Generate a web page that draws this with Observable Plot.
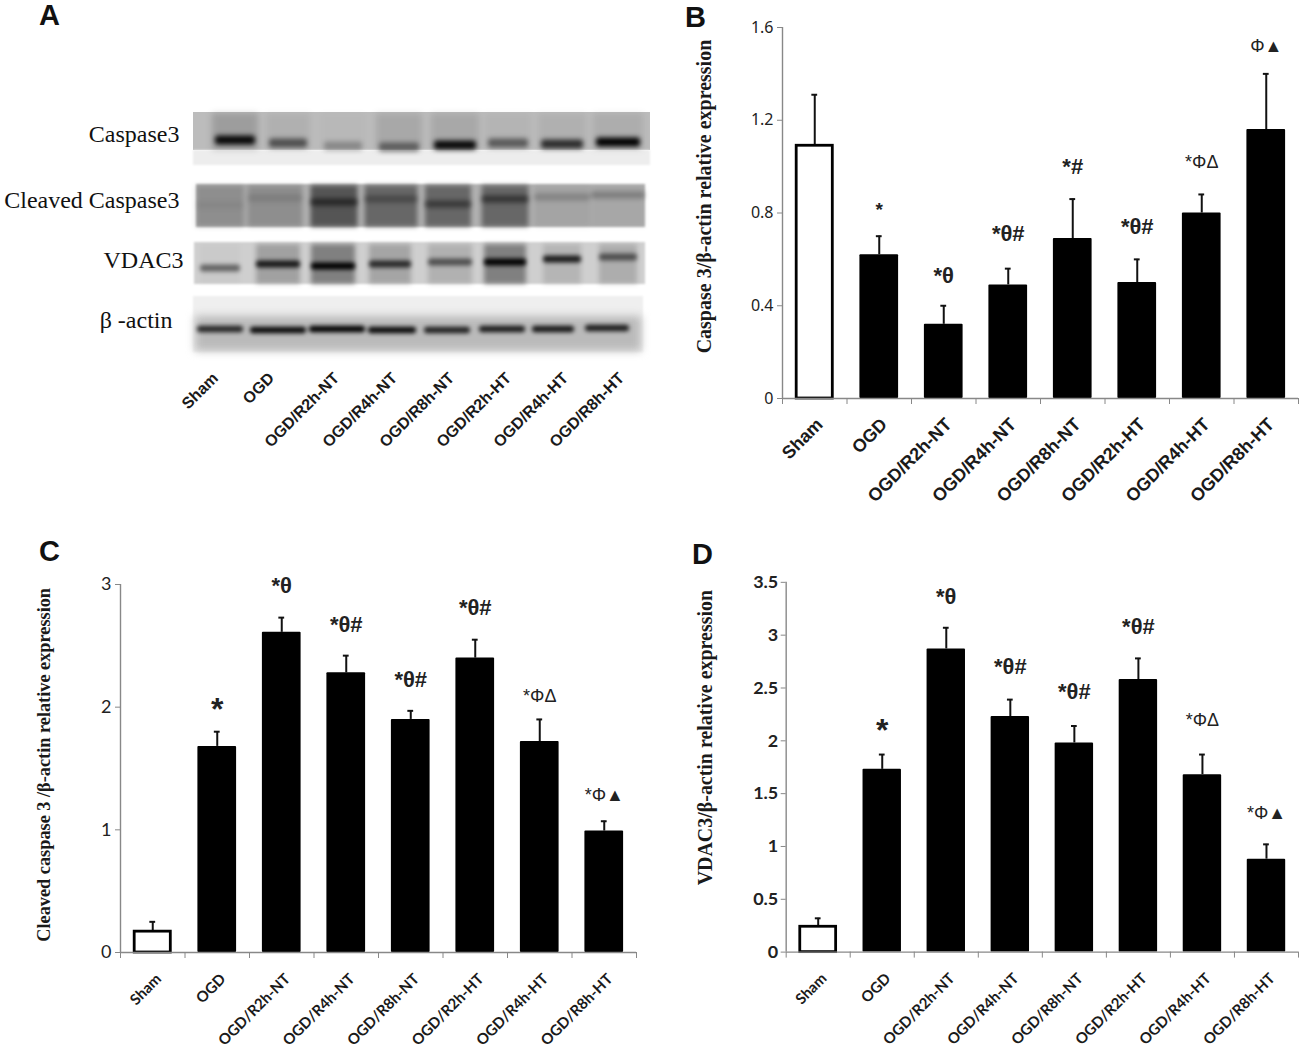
<!DOCTYPE html>
<html><head><meta charset="utf-8">
<script src="https://cdn.jsdelivr.net/npm/d3@7"></script>
<script src="https://cdn.jsdelivr.net/npm/@observablehq/plot@0.6"></script>
<style>
html,body{margin:0;padding:0;background:#fff;width:1300px;height:1048px;overflow:hidden}
.p{position:absolute}
.p svg{background:transparent;overflow:visible;display:block}
.letter{position:absolute;font:bold 29px "Liberation Sans",sans-serif;color:#111;line-height:24px}
</style></head><body>
<script>
const categories=["Sham","OGD","OGD/R2h-NT","OGD/R4h-NT","OGD/R8h-NT","OGD/R2h-HT","OGD/R4h-HT","OGD/R8h-HT"];

// Panel B
const caspaseMean=[1.09,0.62,0.32,0.49,0.69,0.50,0.80,1.16];
const caspaseTop=[1.31,0.70,0.40,0.56,0.86,0.60,0.88,1.40];
const caspaseMarks=["","*","*θ","*θ#","*#","*θ#","*ΦΔ","Φ▲"];
const caspaseMarkY=[null,0.83,0.53,0.71,1.0,0.74,1.02,1.52];
// Panel C
const cleavedMean=[0.17,1.68,2.61,2.28,1.90,2.40,1.72,0.99];
const cleavedTop=[0.25,1.80,2.73,2.42,1.97,2.55,1.90,1.07];
const cleavedMarks=["","*","*θ","*θ#","*θ#","*θ#","*ΦΔ","*Φ▲"];
const cleavedMarkY=[null,2.03,2.99,2.67,2.22,2.81,2.09,1.28];
// Panel D
const vdacMean=[0.24,1.73,2.87,2.23,1.98,2.58,1.68,0.88];
const vdacTop=[0.32,1.87,3.07,2.39,2.14,2.78,1.87,1.02];
const vdacMarks=["","*","*θ","*θ#","*θ#","*θ#","*ΦΔ","*Φ▲"];
const vdacMarkY=[null,2.16,3.36,2.70,2.46,3.08,2.19,1.31];

// Panel A: blot readings (lane centre, lane width, band position, band density, smear density)
const blotLabels=["Caspase3","Cleaved Caspase3","VDAC3","β -actin"];
const casLane=[235,288,343,399,455,508,562,618];
const casWidth=[40,38,38,40,42,40,42,44];
const casBand=[140,143,146,147,145,143,144,142];
const casDensity=[0.95,0.55,0.26,0.45,0.95,0.5,0.75,1];
const casHalo=[0.16,0.06,0.02,0.10,0.10,0.04,0.06,0.08];
const cleLane=[220,275,334,391,448,505,562,618];
const cleWidth=[48,55,47,53,46,47,56,54];
const cleBand=[205,198,202,199,204,199,197,195];
const cleDensity=[0.05,0.12,0.55,0.3,0.45,0.5,0.2,0.25];
const cleHalo=[0.2,0.2,0.52,0.42,0.42,0.42,0.08,0.06];
const vdaLane=[220,278,333,390,450,505,562,618];
const vdaWidth=[40,44,44,42,44,42,38,38];
const vdaBand=[268,264,266,264,262,262,259,257];
const vdaDensity=[0.5,0.85,1,0.75,0.55,1,0.85,0.55];
const vdaHalo=[0.02,0.22,0.38,0.2,0.14,0.38,0.12,0.16];
const actLane=[220,278,337,392,447,502,553,607];
const actWidth=[46,56,56,48,46,46,42,44];
const actBand=[329,330,329,330,330,329,329,328];
const actDensity=[0.8,0.95,1,0.95,0.82,0.85,0.88,0.85];
const gelLabelEnd=[215,271,336,394,451,508,565,621];

function place(node,left,top){const d=document.createElement("div");d.className="p";d.style.left=left+"px";d.style.top=top+"px";d.append(node);document.body.append(d);}
function letter(t,x,y){const d=document.createElement("div");d.className="letter";d.textContent=t;d.style.left=x+"px";d.style.top=y+"px";document.body.append(d);}

function barPanel(o){
  const rows=categories.map((c,i)=>({c,i,mean:o.mean[i],top:o.top[i],mark:o.marks[i],markY:o.markY[i]}));
  const cx=rows.map(d=>d.i+0.5);
  const fig=Plot.plot({
    width:o.x1-o.x0+102,height:o.y0-o.y1+50+110,
    marginLeft:100,marginRight:2,marginTop:50,marginBottom:110,
    x:{domain:[0,8],axis:null},
    y:{domain:[0,o.ymax],axis:null},
    style:{background:"transparent",overflow:"visible"},
    marks:[
      Plot.ruleX(rows,{x:d=>d.i+0.5,y1:"mean",y2:"top",stroke:"#111",strokeWidth:2}),
      Plot.ruleY(rows,{y:"top",x1:d=>d.i+0.455,x2:d=>d.i+0.545,stroke:"#111",strokeWidth:2}),
      Plot.rect(rows.filter(d=>d.i>0),{x1:d=>d.i+0.2,x2:d=>d.i+0.8,y1:0,y2:"mean",fill:"#000",rx:1}),
      Plot.rect(rows.filter(d=>d.i===0),{x1:d=>d.i+0.22,x2:d=>d.i+0.78,y1:0,y2:"mean",fill:"#fff",stroke:"#000",strokeWidth:2.8}),
      Plot.ruleX([0],{stroke:"#888",strokeWidth:1.4}),
      Plot.ruleY([0],{stroke:"#888",strokeWidth:1.4}),
      Plot.axisX({ticks:d3.range(9),tickSize:6,color:"#888",tickFormat:()=>""}),
      Plot.axisX({ticks:cx,tickSize:0,tickPadding:o.catPad,dx:o.catDx,dy:o.catDy,tickRotate:-45,tickFormat:v=>categories[v-0.5],color:"#1a1a1a",fontFamily:o.catFont,fontWeight:"bold",fontSize:o.catSize,label:null}),
      Plot.axisY({ticks:o.yticks,tickSize:5,color:"#888",tickFormat:()=>"",label:null}),
      Plot.axisY({ticks:o.yticks,tickSize:0,tickPadding:o.tickPad,color:"#222",tickFormat:String,fontFamily:o.tickFont,fontWeight:o.tickWeight,fontSize:o.tickSize,label:null}),
      Plot.text([o.title],{x:0,y:o.titleY,text:d=>d,rotate:-90,dx:o.titleDx,fontFamily:"Liberation Serif",fontWeight:"bold",fontSize:o.titleSize,fill:"#1a1a1a"}),
      Plot.text(rows.filter(d=>d.mark&&d.mark!=="*"&&!d.mark.includes("Φ")),{x:d=>d.i+0.5,y:"markY",text:"mark",fill:"#222",fontFamily:"Liberation Sans",fontWeight:"bold",fontSize:22}),
      Plot.text(rows.filter(d=>d.mark.includes("Φ")),{x:d=>d.i+0.5,y:"markY",text:"mark",fill:"#222",fontFamily:"Liberation Sans",fontSize:18}),
      Plot.text(rows.filter(d=>d.mark==="*"),{x:d=>d.i+0.5,y:"markY",text:"mark",fill:"#222",fontFamily:"Liberation Sans",fontWeight:"bold",fontSize:o.starSize,dy:o.starSize*0.2})
    ]
  });
  place(fig,o.x0-100,o.y1-50);
}

barPanel({x0:782,x1:1298,y0:398,y1:27,ymax:1.6,yticks:[0,0.4,0.8,1.2,1.6],mean:caspaseMean,top:caspaseTop,marks:caspaseMarks,markY:caspaseMarkY,
  title:"Caspase 3/β-actin relative expression",titleY:0.871,titleDx:-78,titleSize:20,catFont:"Liberation Sans",catSize:18,catPad:14,catDx:5,catDy:9,tickFont:"Noto Sans",tickWeight:"normal",tickSize:16,tickPad:9,starSize:19});
barPanel({x0:120,x1:636,y0:952,y1:584,ymax:3,yticks:[0,1,2,3],mean:cleavedMean,top:cleavedTop,marks:cleavedMarks,markY:cleavedMarkY,
  title:"Cleaved caspase 3 /β-actin relative expression",titleY:1.53,titleDx:-76,titleSize:18.3,catFont:"Lato",catSize:15,catPad:14,catDx:6,catDy:10,tickFont:"Lato",tickWeight:"normal",tickSize:18,tickPad:9,starSize:32});
barPanel({x0:786,x1:1300,y0:953,y1:582,ymax:3.5,yticks:[0,0.5,1,1.5,2,2.5,3,3.5],mean:vdacMean,top:vdacTop,marks:vdacMarks,markY:vdacMarkY,
  title:"VDAC3/β-actin relative expression",titleY:2.03,titleDx:-81,titleSize:20,catFont:"Lato",catSize:15,catPad:14,catDx:6,catDy:10,tickFont:"Lato",tickWeight:"bold",tickSize:18,tickPad:8,starSize:32});

// Panel A
function lanes(c,w,b,den,halo){return c.map((x,i)=>({x,w:w[i],b:b[i],den:den[i],halo:halo?halo[i]:0}));}
const cas=lanes(casLane,casWidth,casBand,casDensity,casHalo),cle=lanes(cleLane,cleWidth,cleBand,cleDensity,cleHalo),
      vda=lanes(vdaLane,vdaWidth,vdaBand,vdaDensity,vdaHalo),act=lanes(actLane,actWidth,actBand,actDensity);
const band=(data,h,blur)=>Plot.rect(data,{x1:d=>d.x-d.w/2,x2:d=>d.x+d.w/2,y1:d=>d.b-h,y2:d=>d.b+h,fill:"#000",fillOpacity:d=>d.den,rx:3,imageFilter:`blur(${blur}px)`});
const gel=Plot.plot({
  width:660,height:480,margin:0,
  x:{domain:[0,660],range:[0,660],axis:null},
  y:{domain:[0,480],range:[0,480],axis:null},
  style:{background:"transparent",overflow:"visible"},
  marks:[
    // Caspase3
    Plot.rect([0],{x1:193,x2:650,y1:112,y2:150,fill:"#bcbcbc",imageFilter:"blur(.6px)"}),
    Plot.rect([0],{x1:193,x2:650,y1:150,y2:165,fill:"#ededed",imageFilter:"blur(1px)"}),
    Plot.rect(cas,{x1:d=>d.x-d.w/2-3,x2:d=>d.x+d.w/2+3,y1:113,y2:150,fill:"#000",fillOpacity:d=>d.halo,imageFilter:"blur(3px)"}),
    band(cas,4.5,2.4),
    // Cleaved Caspase3
    Plot.rect([0],{x1:196,x2:645,y1:184,y2:227,fill:"#b2b2b2",imageFilter:"blur(.8px)"}),
    Plot.rect(cle,{x1:d=>d.x-d.w/2,x2:d=>d.x+d.w/2,y1:185,y2:227,fill:"#000",fillOpacity:d=>d.halo,imageFilter:"blur(2.5px)"}),
    band(cle,3.5,2.5),
    // VDAC3
    Plot.rect([0],{x1:194,x2:645,y1:242,y2:284,fill:"#cfcfcf",imageFilter:"blur(1px)"}),
    Plot.rect(vda,{x1:d=>d.x-d.w/2,x2:d=>d.x+d.w/2,y1:244,y2:284,fill:"#000",fillOpacity:d=>d.halo,imageFilter:"blur(2.5px)"}),
    band(vda,3.6,2),
    // beta-actin
    Plot.rect([0],{x1:193,x2:643,y1:296,y2:352,fill:"#efefef",imageFilter:"blur(1px)"}),
    Plot.rect([0],{x1:195,x2:641,y1:316,y2:351,fill:"#bababa",imageFilter:"blur(4px)"}),
    band(act,3.2,1.9),
    // Row names
    Plot.text(blotLabels,{x:[179,179,183,172],y:[134,200,260,320],text:d=>d,textAnchor:"end",fontFamily:"Liberation Serif",fontSize:24,fill:"#111"}),
    // Lane names
    Plot.text(categories,{x:gelLabelEnd,y:gelLabelEnd.map(()=>375),text:d=>d,rotate:-45,textAnchor:"end",fontFamily:"Liberation Sans",fontWeight:"bold",fontSize:16,fill:"#1a1a1a"})
  ]
});
place(gel,0,0);

letter("A",39,3);letter("B",685,5);letter("C",39,539);letter("D",692,542);
</script>
</body></html>
